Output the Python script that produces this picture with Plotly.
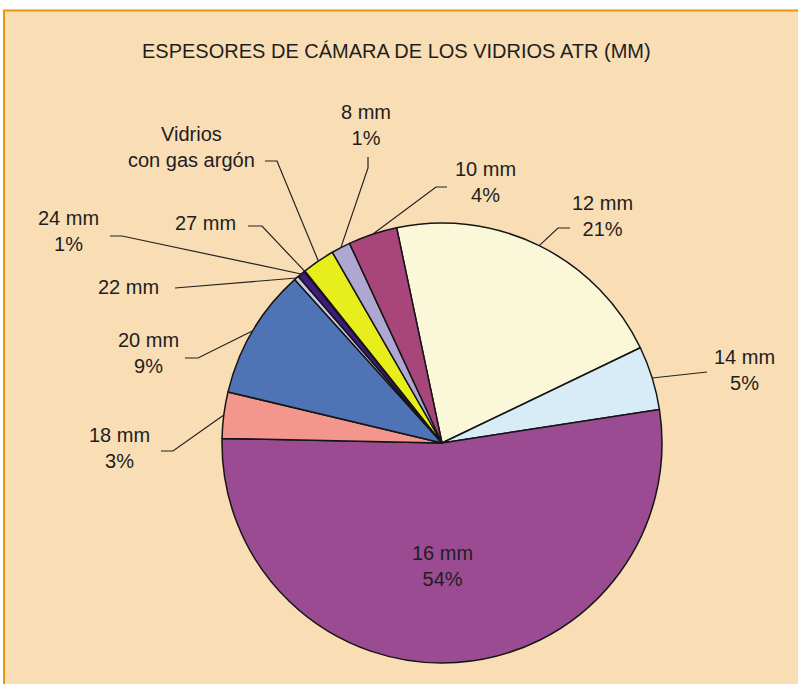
import math
import plotly.graph_objects as go

# ---------------- data ----------------
categories = ["12 mm", "14 mm", "16 mm", "18 mm", "20 mm", "22 mm", "24 mm",
              "27 mm", "Vidrios con gas argón", "8 mm", "10 mm"]
values = [21.2, 4.7, 52.8, 3.4, 9.6, 0.35, 0.55, 0.08, 2.4, 1.4, 3.6]
name_labels = ["12 mm", "14 mm", "16 mm", "18 mm", "20 mm", "22 mm", "24 mm",
               "27 mm", "Vidrios<br>con gas argón", "8 mm", "10 mm"]
pct_labels = ["21%", "5%", "54%", "3%", "9%", "", "1%", "", "", "1%", "4%"]
title_text = "ESPESORES DE CÁMARA DE LOS VIDRIOS ATR (MM)"

# ---------------- styles / layout ----------------
colors = ["#FAF8D8", "#D8ECF7", "#9B4B92", "#F2968E", "#4F74B5", "#C9C8E8",
          "#3E1B7C", "#FFFFFF", "#E8ED1C", "#ADA7D1", "#A8467B"]
W, H = 798, 684
CX, CY, R = 442, 443, 220
ROT = -11.9
BG = "#F9DDB4"
BORDER = "#E9960E"
FONT = "Liberation Sans, Arial, sans-serif"
TXT = "#1E1E1E"

# label centres (pixels) and leader-line elbows (pixels, from label side)
label_pos = {
    "12 mm": (602, 216), "14 mm": (744, 370), "16 mm": (442, 566),
    "18 mm": (119, 448), "20 mm": (148, 353), "22 mm": (128, 287),
    "24 mm": (68, 231), "27 mm": (205, 223),
    "Vidrios con gas argón": (191, 147), "8 mm": (366, 125),
    "10 mm": (485, 182),
}
leader = {
    "12 mm": [(570, 228), (558, 228)],
    "14 mm": [(707, 372)],
    "18 mm": [(161, 451), (173, 451)],
    "20 mm": [(185, 358), (198, 358)],
    "22 mm": [(175, 288)],
    "24 mm": [(110, 236), (122, 236)],
    "27 mm": [(248, 226), (262, 226)],
    "Vidrios con gas argón": [(265, 161), (277, 161)],
    "8 mm": [(368, 157), (368, 168)],
    "10 mm": [(447, 187), (436, 187)],
}


def px(x):
    return x / W


def py(y):
    return 1 - y / H


fig = go.Figure(go.Pie(
    labels=categories, values=values, sort=False, direction="clockwise",
    rotation=ROT, textinfo="none", hoverinfo="label+percent",
    marker=dict(colors=colors, line=dict(color="#151515", width=1.5)),
    domain=dict(x=[px(CX - R), px(CX + R)], y=[py(CY + R), py(CY - R)]),
    showlegend=False,
))

shapes = [dict(type="rect", xref="paper", yref="paper", layer="below",
               x0=px(4), x1=1.02, y0=-0.02, y1=py(10.5),
               fillcolor=BG, line=dict(color=BORDER, width=2))]

# mid angles of slices -> edge points
total = sum(values)
cum = 0.0
for cat, v in zip(categories, values):
    mid = ROT + 360.0 * (cum + v / 2) / total
    cum += v
    if cat not in leader:
        continue
    a = math.radians(mid)
    ex, ey = CX + R * math.sin(a), CY - R * math.cos(a)
    pts = leader[cat] + [(ex, ey)]
    path = "M " + " L ".join(f"{px(x):.5f},{py(y):.5f}" for x, y in pts)
    shapes.append(dict(type="path", xref="paper", yref="paper", path=path,
                       line=dict(color="#222222", width=1.2), layer="above"))

annotations = [dict(text=title_text, x=px(396), y=py(51), xref="paper",
                    yref="paper", showarrow=False, xanchor="center",
                    yanchor="middle", font=dict(family=FONT, size=20, color=TXT))]
for cat, name, pct in zip(categories, name_labels, pct_labels):
    lx, ly = label_pos[cat]
    text = name + ("<br>" + pct if pct else "")
    annotations.append(dict(text=text, x=px(lx), y=py(ly), xref="paper",
                            yref="paper", showarrow=False, xanchor="center",
                            yanchor="middle", align="center",
                            font=dict(family=FONT, size=20, color=TXT)))

fig.update_layout(width=W, height=H, margin=dict(l=0, r=0, t=0, b=0),
                  paper_bgcolor="white", shapes=shapes,
                  annotations=annotations)
fig.write_html("out.html", config={"displayModeBar": False},
               post_script="document.body.style.margin='0';"
                           "document.body.style.overflow='hidden';")
